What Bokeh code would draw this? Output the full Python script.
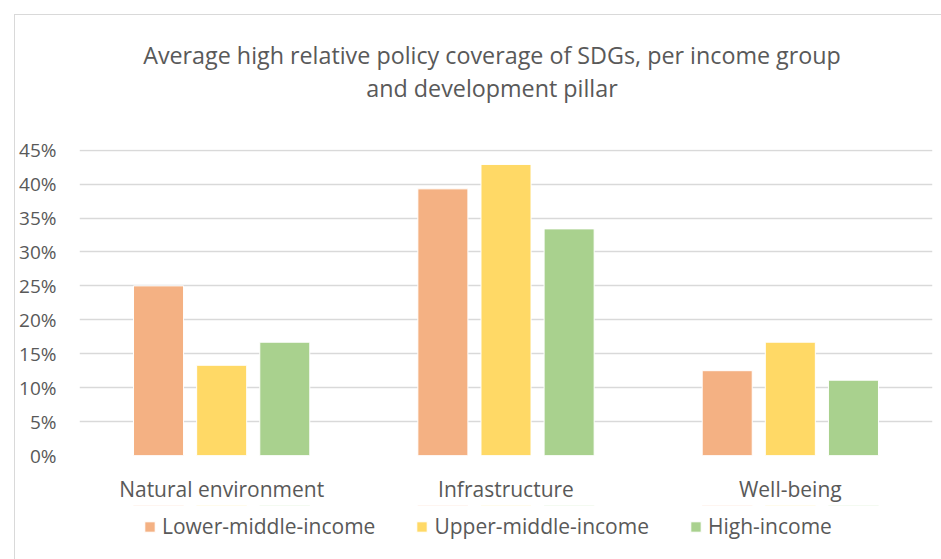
from bokeh.plotting import figure
from bokeh.layouts import column
from bokeh.models import (FactorRange, Range1d, NumeralTickFormatter, Legend, LegendItem,
                          Label, ColumnDataSource, FixedTicker)
from bokeh.transform import dodge
from bokeh.embed import file_html
from bokeh.resources import INLINE

pillars = ["Natural environment", "Infrastructure", "Well-being"]
groups = ["Lower-middle-income", "Upper-middle-income", "High-income"]
lower_middle = [0.25, 0.393, 0.125]
upper_middle = [0.133, 0.429, 0.167]
high_income = [0.167, 0.334, 0.111]
colors = ["#F4B183", "#FFD966", "#A9D18E"]
y_ticks = [0.0, 0.05, 0.10, 0.15, 0.20, 0.25, 0.30, 0.35, 0.40, 0.45]
title_lines = ["Average high relative policy coverage of SDGs, per income group",
               "and development pillar"]

FONT = "Open Sans"
GREY = "#595959"
W = 927
FRAME_L, FRAME_R = 79, 931   # page pixels of the (shared, column-aligned) plot frames


def bare(fig):
    fig.outline_line_color = None
    fig.background_fill_color = "white"
    fig.border_fill_color = "white"
    fig.grid.visible = False
    return fig


src = ColumnDataSource(dict(pillar=pillars, lm=lower_middle, um=upper_middle, hi=high_income))
offsets = [-0.222, 0.0, 0.222]
fields = ["lm", "um", "hi"]

# ---- title strip (its frame is aligned to the chart frame by the column) ----
ft = bare(figure(width=W, height=115, x_range=Range1d(FRAME_L, FRAME_R), y_range=Range1d(0, 115),
                 x_axis_location=None, y_axis_location=None, min_border=0,
                 min_border_left=64, min_border_right=10,
                 output_backend="svg", toolbar_location=None))
for txt, yy in zip(title_lines, [76, 43]):
    ft.add_layout(Label(x=491, y=yy, text=txt, text_align="center", text_baseline="middle",
                        text_font=FONT, text_font_size="23.3px", text_color=GREY))

# ---- main chart ----
p = figure(width=W, height=375, x_range=FactorRange(*pillars, range_padding=0),
           y_range=(0, 0.451), output_backend="svg", toolbar_location=None,
           min_border_left=64, min_border_right=10, min_border_top=19,
           min_border_bottom=46)
p.outline_line_color = None
p.background_fill_color = "white"
p.border_fill_color = "white"

for off, fld, col in zip(offsets, fields, colors):
    p.vbar(x=dodge("pillar", off, range=p.x_range), top=fld, width=0.176,
           source=src, fill_color=col, line_color="white", line_width=1)

p.xgrid.visible = False
p.ygrid.grid_line_color = "#d9d9d9"
p.ygrid.grid_line_width = 1.5
p.yaxis.ticker = FixedTicker(ticks=y_ticks)
p.yaxis.formatter = NumeralTickFormatter(format="0%")
for ax in (p.xaxis[0], p.yaxis[0]):
    ax.axis_line_color = None
    ax.major_tick_line_color = None
    ax.minor_tick_line_color = None
    ax.major_label_text_font = FONT
    ax.major_label_text_color = GREY
p.yaxis.major_label_text_font_size = "19px"
p.xaxis.major_label_text_font_size = "21px"
p.yaxis.major_label_standoff = 17
p.xaxis.major_label_standoff = 13

# ---- legend strip (proxy bars share the data but sit outside the visible range) ----
fl = bare(figure(width=W, height=54, x_range=FactorRange(*pillars), y_range=Range1d(-2, -1),
                 x_axis_location=None, y_axis_location=None,
                 min_border_left=64, min_border_right=10, min_border_top=0,
                 min_border_bottom=12, output_backend="svg", toolbar_location=None))
proxies = [fl.vbar(x=dodge("pillar", off, range=fl.x_range), top=fld, width=0.176, source=src,
                   fill_color=c, line_color="white", line_width=1)
           for off, fld, c in zip(offsets, fields, colors)]
legend = Legend(items=[LegendItem(label=g, renderers=[r]) for g, r in zip(groups, proxies)],
                location=(64, 7), orientation="horizontal",
                border_line_color=None, background_fill_alpha=0,
                padding=0, margin=0, spacing=40, label_standoff=6,
                glyph_width=13, glyph_height=13,
                label_text_font=FONT, label_text_font_size="21px", label_text_color=GREY)
fl.add_layout(legend)

layout = column(ft, p, fl, spacing=0)
layout.margin = (14, 0, 0, 14)
layout.styles = {"border-top": "1px solid #d9d9d9", "border-left": "1px solid #d9d9d9"}

open("out.html", "w").write(file_html(layout, INLINE))
